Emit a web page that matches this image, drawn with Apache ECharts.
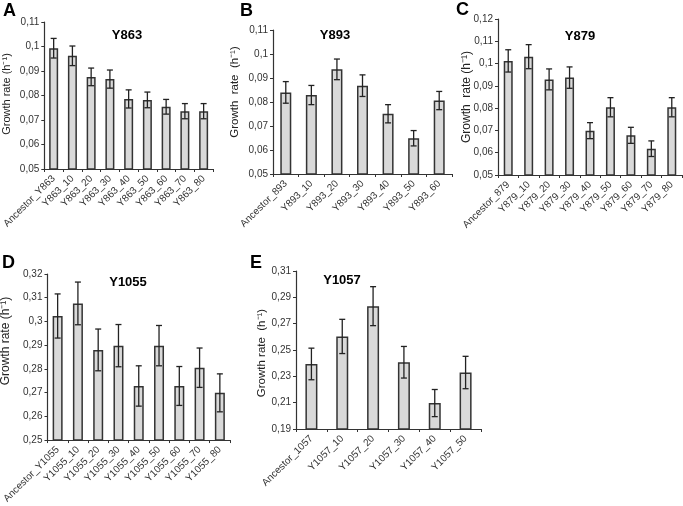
<!DOCTYPE html>
<html>
<head>
<meta charset="utf-8">
<script src="https://cdn.jsdelivr.net/npm/echarts@6/dist/echarts.min.js"></script>
<style>
  html, body { margin: 0; padding: 0; background: #fff; }
  #chart { width: 683px; height: 506px; }
</style>
</head>
<body>
<div id="chart"></div>
<script>
// panel A - Y863
const catsA = ['Ancestor_Y863', 'Y863_10', 'Y863_20', 'Y863_30', 'Y863_40', 'Y863_50', 'Y863_60', 'Y863_70', 'Y863_80']
const valsA = [0.0993, 0.0962, 0.0876, 0.0867, 0.0786, 0.0782, 0.0754, 0.0736, 0.0736]
const errA = [0.004, 0.004, 0.0036, 0.0037, 0.0037, 0.0032, 0.003, 0.0031, 0.0031]

// panel B - Y893
const catsB = ['Ancestor_893', 'Y893_10', 'Y893_20', 'Y893_30', 'Y893_40', 'Y893_50', 'Y893_60']
const valsB = [0.084, 0.0829, 0.0936, 0.0868, 0.0751, 0.0649, 0.0806]
const errB = [0.0045, 0.004, 0.0043, 0.0045, 0.0038, 0.0032, 0.0038]

// panel C - Y879
const catsC = ['Ancestor_879', 'Y879_10', 'Y879_20', 'Y879_30', 'Y879_40', 'Y879_50', 'Y879_60', 'Y879_70', 'Y879_80']
const valsC = [0.1012, 0.1031, 0.0929, 0.0937, 0.0699, 0.0804, 0.0678, 0.0618, 0.0804]
const errC = [0.005, 0.0054, 0.0047, 0.0048, 0.0036, 0.0043, 0.0036, 0.0035, 0.0043]

// panel D - Y1055
const catsD = ['Ancestor_Y1055', 'Y1055_10', 'Y1055_20', 'Y1055_30', 'Y1055_40', 'Y1055_50', 'Y1055_60', 'Y1055_70', 'Y1055_80']
const valsD = [0.3023, 0.3076, 0.288, 0.2898, 0.2728, 0.2898, 0.2728, 0.2805, 0.2699]
const errD = [0.0093, 0.009, 0.0088, 0.0089, 0.0085, 0.0085, 0.0082, 0.0083, 0.008]

// panel E - Y1057
const catsE = ['Ancestor_1057', 'Y1057_10', 'Y1057_20', 'Y1057_30', 'Y1057_40', 'Y1057_50']
const valsE = [0.2394, 0.2603, 0.2833, 0.2407, 0.2097, 0.2329]
const errE = [0.012, 0.013, 0.0148, 0.012, 0.0103, 0.0123]

const panels = [
  { letter: 'A', title: 'Y863', cats: catsA, vals: valsA, err: errA, min: 0.05, max: 0.11, step: 0.01,
    grid: { left: 38, top: 22, width: 175, height: 147 }, barW: 9, titlePos: [127, 35], letterPos: [3, 2],
    name: 'Growth rate (h⁻¹)', nameSize: 11, namePos: [7, 94] },
  { letter: 'B', title: 'Y893', cats: catsB, vals: valsB, err: errB, min: 0.05, max: 0.11, step: 0.01,
    grid: { left: 273, top: 30, width: 179, height: 144 }, barW: 11, titlePos: [335, 35], letterPos: [240, 2],
    name: 'Growth  rate  (h⁻¹)', nameSize: 11.5, namePos: [235, 92] },
  { letter: 'C', title: 'Y879', cats: catsC, vals: valsC, err: errC, min: 0.05, max: 0.12, step: 0.01,
    grid: { left: 498, top: 19, width: 184, height: 156 }, barW: 9, titlePos: [580, 36], letterPos: [456, 1],
    name: 'Growth  rate (h⁻¹)', nameSize: 12, namePos: [467, 97] },
  { letter: 'D', title: 'Y1055', cats: catsD, vals: valsD, err: errD, min: 0.25, max: 0.32, step: 0.01,
    grid: { left: 42, top: 274, width: 188, height: 168 }, barW: 10, titlePos: [128, 282], letterPos: [2, 254],
    name: 'Growth rate (h⁻¹)', nameSize: 12, namePos: [6, 341] },
  { letter: 'E', title: 'Y1057', cats: catsE, vals: valsE, err: errE, min: 0.19, max: 0.31, step: 0.02,
    grid: { left: 296, top: 271, width: 185, height: 158 }, barW: 12, titlePos: [342, 280], letterPos: [250, 254],
    name: 'Growth rate  (h⁻¹)', nameSize: 11.5, namePos: [262, 353] }
]

const fontFamily = 'Liberation Sans, Arial, sans-serif'

// tick labels use a decimal comma: 0,1 / 0,11 / 0,3
const fmt = v => String(+v.toFixed(3)).replace('.', ',')

// error bar: vertical line with caps
const renderErr = (params, api) => {
  const x = api.value(0)
  const lo = api.coord([x, api.value(1)])
  const hi = api.coord([x, api.value(2)])
  const half = 3
  const style = { stroke: '#222', lineWidth: 1.3 }
  return {
    type: 'group',
    children: [
      { type: 'line', shape: { x1: lo[0], y1: lo[1], x2: hi[0], y2: hi[1] }, style },
      { type: 'line', shape: { x1: lo[0] - half, y1: lo[1], x2: lo[0] + half, y2: lo[1] }, style },
      { type: 'line', shape: { x1: hi[0] - half, y1: hi[1], x2: hi[0] + half, y2: hi[1] }, style }
    ]
  }
}

const chart = echarts.init(document.getElementById('chart'))

const grids = []
const xAxes = []
const yAxes = []
const series = []
const graphics = []

panels.forEach((p, i) => {
  grids.push(p.grid)
  xAxes.push({
    type: 'category',
    gridIndex: i,
    data: p.cats,
    axisLine: { lineStyle: { color: '#333', width: 1.2 } },
    axisTick: { show: true, length: 3, lineStyle: { color: '#333' } },
    axisLabel: { rotate: 45, fontSize: 10, color: '#333', fontFamily, margin: 8, interval: 0 }
  })
  yAxes.push({
    type: 'value',
    gridIndex: i,
    min: p.min,
    max: p.max,
    interval: p.step,
    splitLine: { show: false },
    axisLine: { show: true, lineStyle: { color: '#333', width: 1.2 } },
    axisTick: { show: true, length: 3, lineStyle: { color: '#333' } },
    axisLabel: { fontSize: 10, color: '#333', fontFamily, margin: 5, formatter: fmt }
  })
  series.push({
    type: 'bar',
    xAxisIndex: i,
    yAxisIndex: i,
    data: p.vals,
    barWidth: p.barW,
    itemStyle: { color: '#d9d9d9', borderColor: '#333', borderWidth: 1.5 },
    silent: true
  })
  series.push({
    type: 'custom',
    xAxisIndex: i,
    yAxisIndex: i,
    renderItem: renderErr,
    data: p.vals.map((v, k) => [k, v - p.err[k], v + p.err[k]]),
    z: 3,
    silent: true
  })
  graphics.push({
    type: 'text', left: p.letterPos[0], top: p.letterPos[1],
    style: { text: p.letter, font: 'bold 18px ' + fontFamily, fill: '#000' }
  })
  graphics.push({
    type: 'text', x: p.titlePos[0], y: p.titlePos[1],
    style: { text: p.title, font: 'bold 13px ' + fontFamily, fill: '#000', align: 'center', verticalAlign: 'middle' }
  })
  graphics.push({
    type: 'text', x: p.namePos[0], y: p.namePos[1], rotation: Math.PI / 2,
    style: { text: p.name, font: p.nameSize + 'px ' + fontFamily, fill: '#222', align: 'center', verticalAlign: 'middle' }
  })
})

chart.setOption({
  animation: false,
  backgroundColor: '#fff',
  grid: grids,
  xAxis: xAxes,
  yAxis: yAxes,
  series,
  graphic: graphics
})
</script>
</body>
</html>
